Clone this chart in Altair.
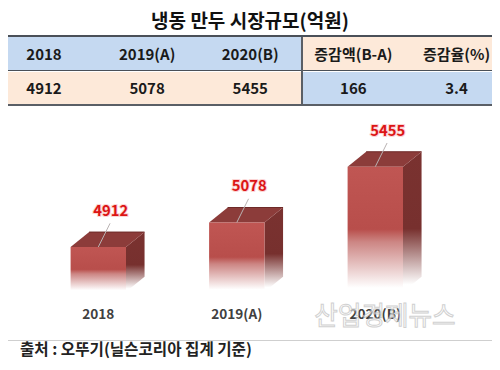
import altair as alt
import pandas as pd

FONT = "Noto Sans CJK KR"
TITLE = ["냉동 만두 시장규모(억원)"]
COLUMNS = ["c1", "c2", "c3", "c4", "c5"]
HEADERS = ["2018", "2019(A)", "2020(B)", "증감액(B-A)", "증감율(%)"]
ROW_VALUES = ["4912", "5078", "5455", "166", "3.4"]
YEARS = ["2018", "2019(A)", "2020(B)"]
VALUES = [4912, 5078, 5455]
SOURCE = ["출처 : 오뚜기(닐슨코리아 집계 기준)"]
MARK = ["산업경제뉴스"]

BASE = 4610      # value at which the drawn bars start
HALF = 0.2       # half bar width, in category units
DEPTH_X = 0.134  # 3D depth, category units
DEPTH_Y = 101    # 3D depth, value units

# ---------- table panel ----------
W, H1, H2 = 484, 102, 252
one = alt.Data(values=[{"a": 0}])


def band(x0, x1, y0, y1, color):
    return alt.Chart(one).mark_rect(color=color).encode(
        x=alt.value(x0), x2=alt.value(x1), y=alt.value(y0), y2=alt.value(y1))


xcol = alt.X("col:N", scale=alt.Scale(type="point", domain=COLUMNS, range=[36, 448.5], padding=0), axis=None)
yrow = alt.Y("row:N", scale=alt.Scale(type="point", domain=["title", "head", "vals"], range=[12, 81], padding=0), axis=None)

cells = pd.DataFrame(
    [{"col": c, "row": "head", "t": t} for c, t in zip(COLUMNS, HEADERS)]
    + [{"col": c, "row": "vals", "t": t} for c, t in zip(COLUMNS, ROW_VALUES)]
)
cell_text = alt.Chart(cells).mark_text(font=FONT, fontWeight="bold", fontSize=15, color="#1a1a1a").encode(
    x=xcol, y=yrow, text="t:N")
title = alt.Chart(pd.DataFrame({"t": TITLE, "row": ["title"]})).mark_text(
    font=FONT, fontWeight="bold", fontSize=19, color="#111111", dy=2
).encode(x=alt.value(242), y=yrow, text="t:N")

table = alt.layer(
    band(0, 294, 29, 62, "#C5D9F1"),
    band(294, W, 29, 62, "#FDE9D9"),
    band(0, 294, 64, 96, "#FDE9D9"),
    band(294, W, 64, 96, "#C5D9F1"),
    band(0, W, 27, 29, "#4a5058"),
    band(0, W, 62, 63, "#4a5058"),
    band(0, W, 96, 98, "#5a5f66"),
    band(293, 295, 29, 96, "#5a5f66"),
    title,
    cell_text,
).properties(width=W, height=H1)

# ---------- 3D bars panel ----------
front, top, side, leader, labels, back = [], [], [], [], [], []
for i, (yr, v) in enumerate(zip(YEARS, VALUES)):
    l, r = i - HALF, i + HALF
    front.append({"x": l, "x2": r, "y": v, "y2": BASE})
    t = v + DEPTH_Y
    for x, lo, hi in [(l, v, v), (l + DEPTH_X, v, t), (r, v, t), (r + DEPTH_X, t, t)]:
        top.append({"i": i, "x": x, "lo": lo, "hi": hi})
    for x, lo, hi in [(r, BASE, v), (r + DEPTH_X, BASE + DEPTH_Y, t)]:
        side.append({"i": i, "x": x, "lo": lo, "hi": hi})
    back.append({"x": l + DEPTH_X, "x2": r + DEPTH_X, "y": t})
    leader.append({"x": i, "x2": i + 0.085, "y": v, "y2": v + 160})
    labels.append({"x": i + 0.09, "y": v, "v": str(v), "yr": yr, "c": i})

sx = alt.Scale(domain=[-0.652, 2.8426], nice=False, zero=False)
sy = alt.Scale(domain=[4134.4, 5838.3], nice=False, zero=False)
X = alt.X("x:Q", scale=sx, axis=None)
Y = alt.Y("y:Q", scale=sy, axis=None)

front_fill = alt.LinearGradient(
    gradient="linear", x1=0, y1=0, x2=0, y2=1,
    stops=[
        alt.GradientStop(offset=0, color="#C05653"),
        alt.GradientStop(offset=0.5, color="#B84E4B"),
        alt.GradientStop(offset=0.6, color="#CC8583"),
        alt.GradientStop(offset=0.97, color="#FFFFFF"),
    ])
side_fill = alt.LinearGradient(
    gradient="linear", x1=0, y1=0, x2=0, y2=1,
    stops=[
        alt.GradientStop(offset=0, color="#7A3230"),
        alt.GradientStop(offset=0.55, color="#77302E"),
        alt.GradientStop(offset=0.95, color="#FFFFFF"),
    ])

front_m = alt.Chart(pd.DataFrame(front)).mark_rect(fill=front_fill).encode(
    x=X, x2="x2:Q", y=Y, y2="y2:Q")
side_m = alt.Chart(pd.DataFrame(side)).mark_area(fill=side_fill).encode(
    x=X, y=alt.Y("hi:Q", scale=sy, axis=None), y2="lo:Q", detail="i:N")
top_m = alt.Chart(pd.DataFrame(top)).mark_area(color="#8C3C3A").encode(
    x=X, y=alt.Y("hi:Q", scale=sy, axis=None), y2="lo:Q", detail="i:N")
back_m = alt.Chart(pd.DataFrame(back)).mark_rule(color="#6E2A28", strokeWidth=1).encode(
    x=X, x2="x2:Q", y=Y)
lead_m = alt.Chart(pd.DataFrame(leader)).mark_rule(color="#b9b2b2", strokeWidth=1).encode(
    x=X, x2="x2:Q", y=Y, y2="y2:Q")
lab_df = pd.DataFrame(labels)
halo_m = alt.Chart(lab_df).mark_text(
    font=FONT, fontWeight="bold", fontSize=14.8, stroke="#FBD5D5", strokeWidth=2, dy=-35
).encode(x=X, y=Y, text="v:N")
val_m = alt.Chart(lab_df).mark_text(
    font=FONT, fontWeight="bold", fontSize=14.8, color="#DC1414", dy=-35
).encode(x=X, y=Y, text="v:N")
year_m = alt.Chart(lab_df).mark_text(
    font=FONT, fontWeight="bold", fontSize=13.6, color="#404040"
).encode(x=alt.X("c:Q", scale=sx, axis=None), y=alt.value(205), text="yr:N")
rule_m = band(0, W, 230, 231, "#cfcfcf")
src_m = alt.Chart(pd.DataFrame({"t": SOURCE})).mark_text(
    font=FONT, fontWeight="bold", fontSize=15.6, color="#222222", align="left"
).encode(x=alt.value(12), y=alt.value(240), text="t:N")
wm_m = alt.Chart(pd.DataFrame({"t": MARK})).mark_text(
    font=FONT, fontSize=25.6, fill="#ffffff", stroke="#bdbdbd",
    strokeWidth=1, opacity=0.7
).encode(x=alt.value(377), y=alt.value(207), text="t:N")

bars = alt.layer(
    side_m, top_m, back_m, front_m, lead_m, halo_m, val_m, year_m, rule_m, src_m, wm_m
).properties(width=W, height=H2)

chart = alt.vconcat(table, bars, spacing=0).properties(
    padding=0, background="white"
).configure_view(stroke=None)

chart.save("out.html", embed_options={"renderer": "svg", "actions": False})
